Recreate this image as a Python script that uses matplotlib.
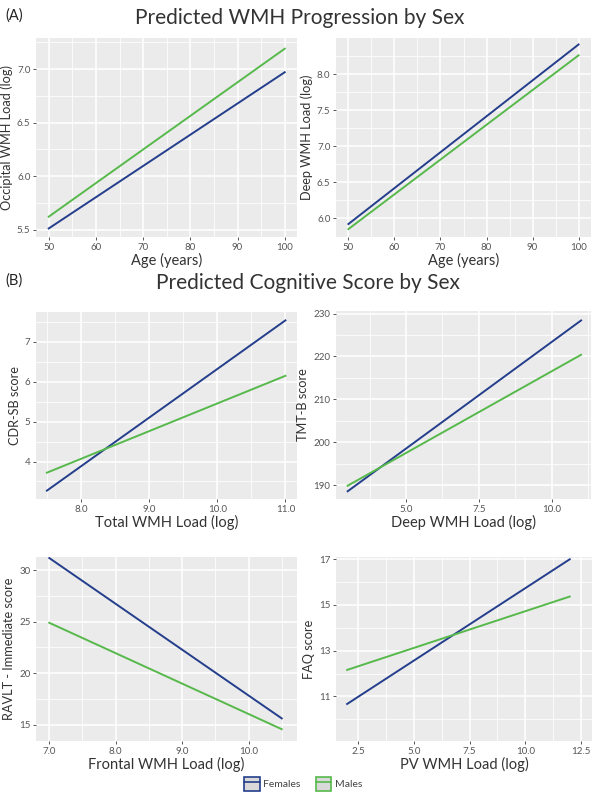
import numpy as np
import matplotlib
matplotlib.use("Agg")
import matplotlib.pyplot as plt
from matplotlib.patches import Patch
from matplotlib.lines import Line2D
from matplotlib.legend_handler import HandlerTuple

plt.rcParams['font.family'] = ['Lato', 'DejaVu Sans']

W, H = 600, 797

# colours of the two groups
cFem = "#243E8C"
cMal = "#57B94B"

# ---- data (line end points) ----
# (A) WMH progression
age = [50, 100]
occ_fem = [5.51, 6.97]
occ_mal = [5.62, 7.19]
deep_fem = [5.92, 8.41]
deep_mal = [5.85, 8.26]

# (B) cognitive scores
total_x = [7.5, 11.0]
cdr_fem = [3.27, 7.54]
cdr_mal = [3.72, 6.15]

deep_x = [3.0, 11.0]
tmt_fem = [188.6, 228.4]
tmt_mal = [189.9, 220.4]

front_x = [7.0, 10.5]
ravlt_fem = [31.2, 15.6]
ravlt_mal = [24.9, 14.55]

pv_x = [2.0, 12.0]
faq_fem = [10.67, 17.0]
faq_mal = [12.16, 15.37]

fig = plt.figure(figsize=(W/100, H/100), dpi=100)


def px_axes(x0, y0, x1, y1):
    # pixel box (top-left origin) -> figure axes
    return fig.add_axes([x0/W, 1 - y1/H, (x1-x0)/W, (y1-y0)/H])


def gg_panel(ax, x, fem, mal, xlim, ylim, xmaj, xmin, ymaj, ymin, xlab, ylab, xfmt, yfmt):
    ax.set_facecolor("#EBEBEB")
    for s in ax.spines.values():
        s.set_visible(False)
    ax.set_xlim(xlim)
    ax.set_ylim(ylim)
    ax.set_xticks(xmaj)
    ax.set_xticks(xmin, minor=True)
    ax.set_yticks(ymaj)
    ax.set_yticks(ymin, minor=True)
    ax.set_xticklabels([xfmt.format(v) for v in xmaj])
    ax.set_yticklabels([yfmt.format(v) for v in ymaj])
    ax.grid(True, which="major", color="white", lw=1.1)
    ax.grid(True, which="minor", color="white", lw=0.55)
    ax.set_axisbelow(True)
    ax.tick_params(which="major", length=2.5, width=0.7, color="#555555",
                   labelsize=7, labelcolor="#555555", pad=1.5)
    ax.tick_params(which="minor", length=0)
    ax.plot(x, fem, color=cFem, lw=1.4)
    ax.plot(x, mal, color=cMal, lw=1.4)
    ax.set_xlabel(xlab, fontsize=10.5, color="#333333", labelpad=1)
    ax.set_ylabel(ylab, fontsize=9.2, color="#333333", labelpad=3)


# row 1
ax1 = px_axes(36, 38, 297, 237)
gg_panel(ax1, age, occ_fem, occ_mal, (47.3, 102.6), (5.43, 7.29),
         [50, 60, 70, 80, 90, 100], [55, 65, 75, 85, 95],
         [5.5, 6.0, 6.5, 7.0], [5.75, 6.25, 6.75, 7.25],
         "Age (years)", "Occipital WMH Load (log)", "{:g}", "{:.1f}")
ax2 = px_axes(336, 38, 591, 237)
gg_panel(ax2, age, deep_fem, deep_mal, (47.3, 102.7), (5.74, 8.5),
         [50, 60, 70, 80, 90, 100], [55, 65, 75, 85, 95],
         [6.0, 6.5, 7.0, 7.5, 8.0], [6.25, 6.75, 7.25, 7.75, 8.25],
         "Age (years)", "Deep WMH Load (log)", "{:g}", "{:.1f}")

# row 2
ax3 = px_axes(36, 312, 297, 499)
gg_panel(ax3, total_x, cdr_fem, cdr_mal, (7.34, 11.17), (3.06, 7.75),
         [8, 9, 10, 11], [7.5, 8.5, 9.5, 10.5],
         [4, 5, 6, 7], [3.5, 4.5, 5.5, 6.5, 7.5],
         "Total WMH Load (log)", "CDR-SB score", "{:.1f}", "{:g}")
ax4 = px_axes(336, 311, 591, 499)
gg_panel(ax4, deep_x, tmt_fem, tmt_mal, (2.6, 11.34), (186.8, 230.6),
         [5, 7.5, 10], [3.75, 6.25, 8.75, 11.25],
         [190, 200, 210, 220, 230], [195, 205, 215, 225],
         "Deep WMH Load (log)", "TMT-B score", "{:.1f}", "{:g}")

# row 3
ax5 = px_axes(36, 557, 297, 741)
gg_panel(ax5, front_x, ravlt_fem, ravlt_mal, (6.8, 10.73), (13.4, 31.3),
         [7, 8, 9, 10], [7.5, 8.5, 9.5, 10.5],
         [15, 20, 25, 30], [17.5, 22.5, 27.5],
         "Frontal WMH Load (log)", "RAVLT - Immediate score", "{:.1f}", "{:g}")
ax6 = px_axes(336, 557, 592, 741)
gg_panel(ax6, pv_x, faq_fem, faq_mal, (1.5, 13.0), (9.05, 17.1),
         [2.5, 5.0, 7.5, 10.0, 12.5], [3.75, 6.25, 8.75, 11.25],
         [11, 13, 15, 17], [10, 12, 14, 16],
         "PV WMH Load (log)", "FAQ score", "{:.1f}", "{:g}")

# headings
fig.text(5/W, 1 - 16/H, "(A)", fontsize=10.5, va="center", ha="left", color="#222222")
fig.text(300/W, 1 - 18/H, "Predicted WMH Progression by Sex", fontsize=15,
         va="center", ha="center", color="#333333")
fig.text(5/W, 1 - 281/H, "(B)", fontsize=10.5, va="center", ha="left", color="#222222")
fig.text(308/W, 1 - 283/H, "Predicted Cognitive Score by Sex", fontsize=15,
         va="center", ha="center", color="#333333")

# legend
hF = (Patch(facecolor="#D9D9D9", edgecolor=cFem, lw=1.2), Line2D([], [], color=cFem, lw=1.2))
hM = (Patch(facecolor="#D9D9D9", edgecolor=cMal, lw=1.2), Line2D([], [], color=cMal, lw=1.2))
fig.legend([hF, hM], ["Females", "Males"], loc="center", bbox_to_anchor=(303/W, 1 - 784/H),
           ncol=2, frameon=False, fontsize=7.5, handler_map={tuple: HandlerTuple(ndivide=1, pad=0)},
           handlelength=1.5, handleheight=1.7, handletextpad=0.3, columnspacing=1.5,
           labelcolor="#444444")

fig.savefig("out.png", dpi=100)
